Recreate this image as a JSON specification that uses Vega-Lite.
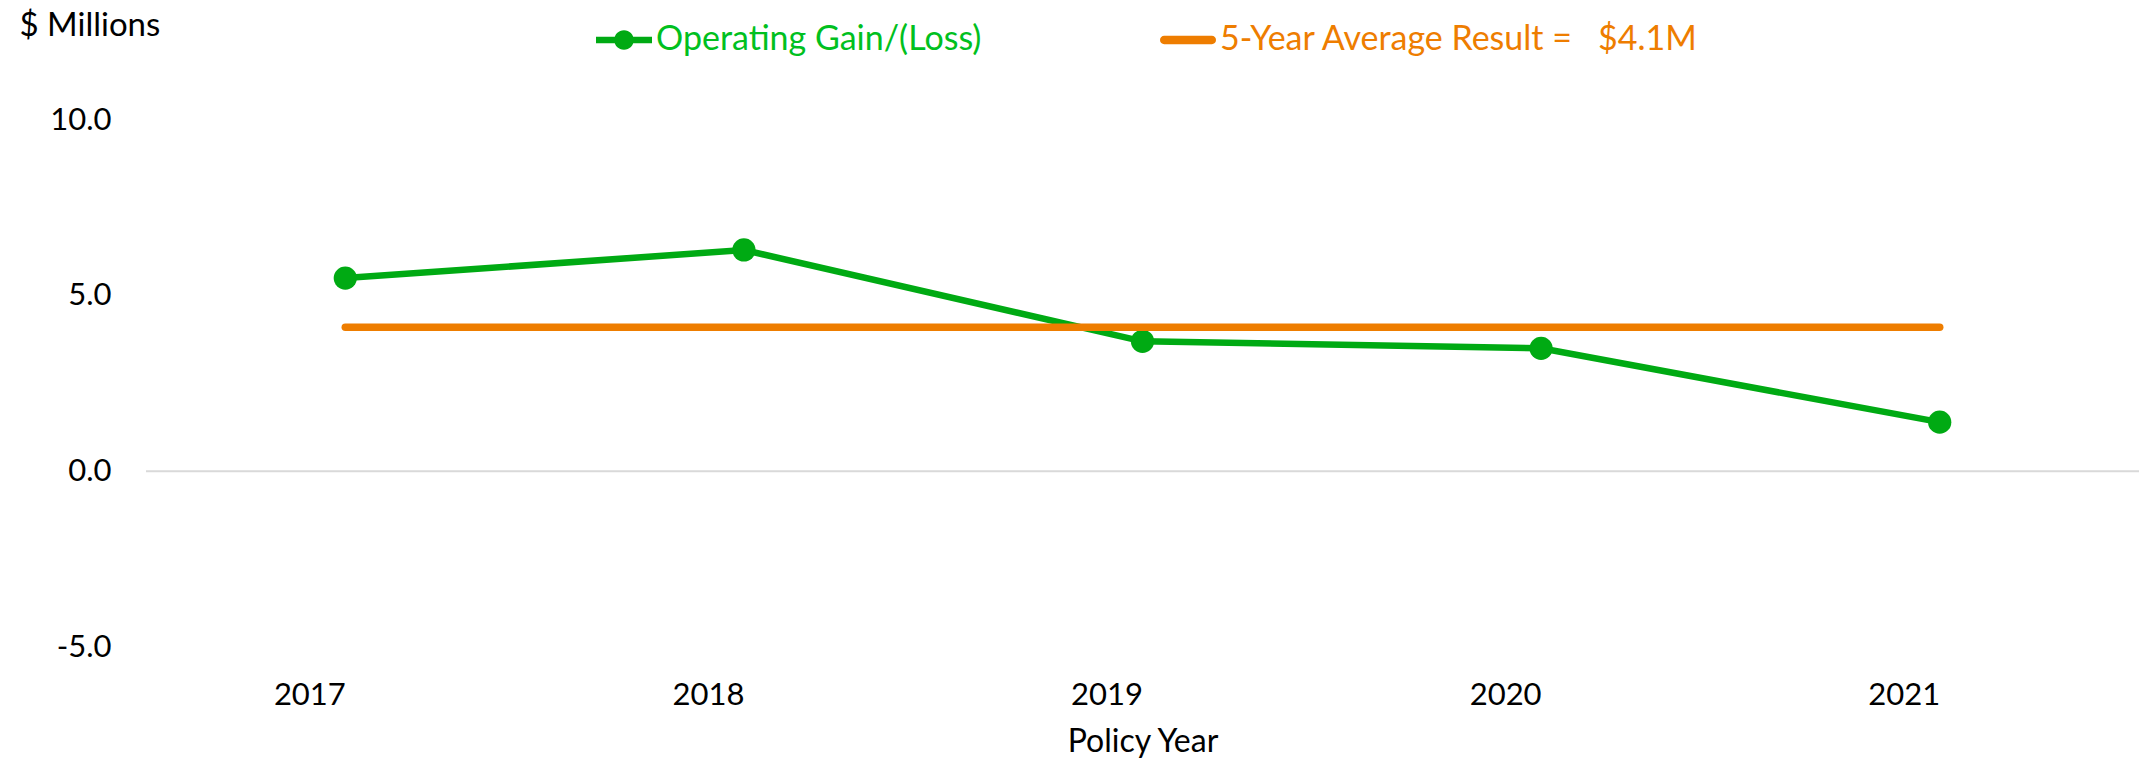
{
  "$schema": "https://vega.github.io/schema/vega-lite/v6.json",
  "width": 1993,
  "height": 527,
  "autosize": {"type": "none"},
  "padding": {"left": 146, "top": 120, "right": 0, "bottom": 113},
  "background": "white",
  "config": {
    "view": {"stroke": null},
    "font": "Lato",
    "axis": {"labelFont": "Lato", "titleFont": "Lato", "labelColor": "#000000", "titleColor": "#000000"}
  },
  "data": {
    "values": [
      {"year": "2017", "series": "Operating Gain/(Loss)", "value": 5.5},
      {"year": "2018", "series": "Operating Gain/(Loss)", "value": 6.3},
      {"year": "2019", "series": "Operating Gain/(Loss)", "value": 3.7},
      {"year": "2020", "series": "Operating Gain/(Loss)", "value": 3.5},
      {"year": "2021", "series": "Operating Gain/(Loss)", "value": 1.4},
      {"year": "2017", "series": "5-Year Average Result =\u00a0\u00a0 $4.1M", "value": 4.1},
      {"year": "2018", "series": "5-Year Average Result =\u00a0\u00a0 $4.1M", "value": 4.1},
      {"year": "2019", "series": "5-Year Average Result =\u00a0\u00a0 $4.1M", "value": 4.1},
      {"year": "2020", "series": "5-Year Average Result =\u00a0\u00a0 $4.1M", "value": 4.1},
      {"year": "2021", "series": "5-Year Average Result =\u00a0\u00a0 $4.1M", "value": 4.1}
    ]
  },
  "layer": [
    {
      "data": {"values": [{"zero": 0}]},
      "mark": {"type": "rule", "color": "#D9D9D9", "strokeWidth": 2},
      "encoding": {"y": {"field": "zero", "type": "quantitative", "scale": {"domain": [-5, 10]}}}
    },
    {
      "transform": [{"filter": "datum.series === 'Operating Gain/(Loss)'"}],
      "mark": {"type": "line", "strokeWidth": 6.5},
      "encoding": {
        "x": {"field": "year", "type": "ordinal"},
        "y": {"field": "value", "type": "quantitative"},
        "color": {"field": "series", "type": "nominal"}
      }
    },
    {
      "transform": [{"filter": "datum.series === 'Operating Gain/(Loss)'"}],
      "mark": {"type": "circle", "size": 540, "opacity": 1},
      "encoding": {
        "x": {"field": "year", "type": "ordinal"},
        "y": {"field": "value", "type": "quantitative"},
        "color": {"field": "series", "type": "nominal"}
      }
    },
    {
      "transform": [{"filter": "datum.series !== 'Operating Gain/(Loss)'"}],
      "mark": {"type": "line", "strokeWidth": 7.5, "strokeCap": "round"},
      "encoding": {
        "x": {
          "field": "year",
          "type": "ordinal",
          "scale": {"type": "point", "padding": 0.5},
          "axis": {
            "title": "Policy Year",
            "titleFontSize": 32,
            "titleFontWeight": "normal",
            "titlePadding": 16,
            "labelFontSize": 31,
            "labelPadding": 48,
            "labelAngle": 0,
            "ticks": false,
            "domain": false,
            "grid": false
          }
        },
        "y": {
          "field": "value",
          "type": "quantitative",
          "scale": {"domain": [-5, 10], "nice": false, "zero": false},
          "axis": {
            "values": [-5, 0, 5, 10],
            "labelExpr": "datum.value < 0 ? '-' + format(-datum.value, '.1f') : format(datum.value, '.1f')",
            "labelFontSize": 31,
            "labelPadding": 35,
            "ticks": false,
            "domain": false,
            "grid": false,
            "title": "$ Millions",
            "titleAngle": 0,
            "titleAlign": "left",
            "titleBaseline": "middle",
            "titleX": -127,
            "titleY": -95,
            "titleFontSize": 33,
            "titleFontWeight": "normal"
          }
        },
        "color": {
          "field": "series",
          "type": "nominal",
          "scale": {
            "domain": ["Operating Gain/(Loss)", "5-Year Average Result =\u00a0\u00a0 $4.1M"],
            "range": ["#00AA13", "#EE7D00"]
          },
          "legend": {
            "orient": "none",
            "legendX": 450,
            "legendY": -108,
            "direction": "horizontal",
            "title": null,
            "labelFont": "Lato",
            "labelFontSize": 34,
            "labelOffset": 4,
            "labelLimit": 0,
            "symbolSize": 3136,
            "columnPadding": 177,
            "encode": {
              "symbols": {
                "update": {
                  "shape": {"signal": "datum.value === 'Operating Gain/(Loss)' ? 'M-1,-0.12H1V0.12H-1Z M-0.35,0A0.35,0.35 0 1,1 0.35,0A0.35,0.35 0 1,1 -0.35,0Z' : 'M-0.85,-0.15H0.85A0.15,0.15 0 0,1 0.85,0.15H-0.85A0.15,0.15 0 0,1 -0.85,-0.15Z'"},
                  "fill": {"signal": "datum.value === 'Operating Gain/(Loss)' ? '#00AA13' : '#EE7D00'"},
                  "stroke": {"value": "transparent"},
                  "strokeWidth": {"value": 0},
                  "opacity": {"value": 1},
                  "fillOpacity": {"value": 1}
                }
              },
              "labels": {
                "update": {
                  "fill": {"signal": "datum.value === 'Operating Gain/(Loss)' ? '#00C020' : '#EE7D00'"}
                }
              }
            }
          }
        }
      }
    }
  ]
}
